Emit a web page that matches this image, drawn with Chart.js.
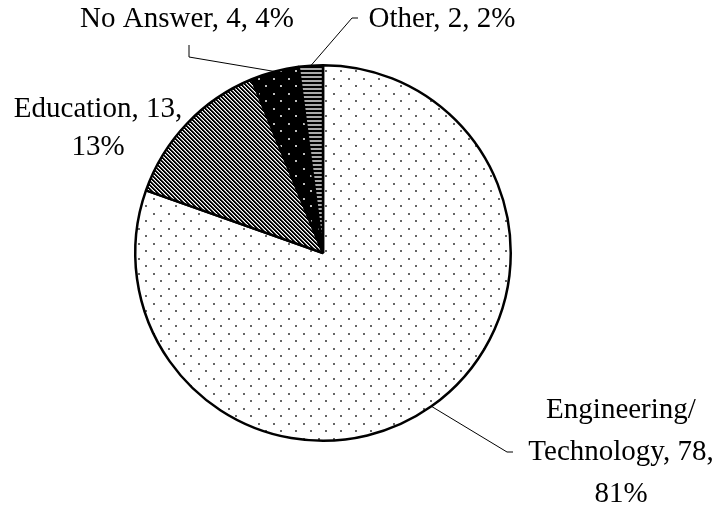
<!DOCTYPE html>
<html lang="en">
<head>
    <meta charset="UTF-8">
    <title>Pie chart</title>
    <script src="https://cdn.jsdelivr.net/npm/chart.js@4/dist/chart.umd.min.js"></script>
    <style>
        body { margin: 0; background: #fff; }
        #wrap { width: 719px; height: 512px; }
    </style>
</head>
<body>
    <div id="wrap"><canvas id="grafico" width="719" height="512"></canvas></div>
<script>
    // dados do gráfico
    const categorias = ["Engineering/Technology", "Education", "No Answer", "Other"];
    const valores = [78, 13, 4, 2];
    const percentuais = ["81%", "13%", "4%", "2%"];

    // rótulos de texto (linhas) de cada fatia
    const rotulos = [
        ["Engineering/", "Technology, 78,", "81%"],
        ["Education, 13,", "13%"],
        ["No Answer, 4, 4%"],
        ["Other, 2, 2%"]
    ];

    function criarPadrao(w, h, desenho) {
        const c = document.createElement("canvas");
        c.width = w; c.height = h;
        const g = c.getContext("2d");
        desenho(g, w, h);
        return document.createElement("canvas").getContext("2d").createPattern(c, "repeat");
    }

    // pontos cinza sobre branco
    const padraoPontos = criarPadrao(15, 15, function (g) {
        g.fillStyle = "#fff"; g.fillRect(0, 0, 15, 15);
        g.fillStyle = "#666";
        g.fillRect(3, 3, 2, 2);
        g.fillRect(10, 10, 2, 2);
    });
    // listras diagonais
    const padraoDiagonal = criarPadrao(8, 8, function (g) {
        g.fillStyle = "#fff"; g.fillRect(0, 0, 8, 8);
        for (let y = 0; y < 8; y++) {
            for (let x = 0; x < 8; x++) {
                const m = ((x - y) % 4 + 4) % 4;
                if (m < 2) { g.fillStyle = "#000"; g.fillRect(x, y, 1, 1); }
                else if (m === 2) { g.fillStyle = "#888"; g.fillRect(x, y, 1, 1); }
            }
        }
    });
    // pontos claros sobre preto
    const padraoPreto = criarPadrao(15, 15, function (g) {
        g.fillStyle = "#000"; g.fillRect(0, 0, 15, 15);
        g.fillStyle = "#bbb";
        g.fillRect(3, 3, 2, 2);
        g.fillRect(10, 10, 2, 2);
    });
    // listras horizontais
    const padraoHorizontal = criarPadrao(4, 4, function (g) {
        g.fillStyle = "#000"; g.fillRect(0, 0, 4, 4);
        g.fillStyle = "#aaa"; g.fillRect(0, 0, 4, 2);
    });

    const fonteRotulo = "29px 'Liberation Serif', 'Times New Roman', serif";

    // posições dos textos e linhas guia
    const textos = [
        { x: 621, y: 418, dy: 42 },
        { x: 98, y: 117, dy: 38 },
        { x: 187, y: 27, dy: 0 },
        { x: 442, y: 27, dy: 0 }
    ];
    const guias = [
        [[507, 452], [513, 452]],
        null,
        [[189, 57], [189, 45]],
        [[352, 18], [358, 18]]
    ];

    const pluginRotulos = {
        id: "rotulos",
        afterDraw(chart) {
            const ctx = chart.ctx;
            const arcos = chart.getDatasetMeta(0).data;
            ctx.save();
            ctx.strokeStyle = "#000";
            ctx.lineWidth = 1;
            arcos.forEach(function (arco, i) {
                if (!guias[i]) return;
                const p = arco.getProps(["x", "y", "startAngle", "endAngle", "outerRadius"], true);
                const meio = (p.startAngle + p.endAngle) / 2;
                ctx.beginPath();
                ctx.moveTo(p.x + p.outerRadius * Math.cos(meio), p.y + p.outerRadius * Math.sin(meio));
                guias[i].forEach(function (pt) { ctx.lineTo(pt[0], pt[1]); });
                ctx.stroke();
            });
            ctx.fillStyle = "#000";
            ctx.font = fonteRotulo;
            ctx.textAlign = "center";
            ctx.textBaseline = "alphabetic";
            rotulos.forEach(function (linhas, i) {
                linhas.forEach(function (t, j) {
                    ctx.fillText(t, textos[i].x, textos[i].y + j * textos[i].dy);
                });
            });
            ctx.restore();
        }
    };

    new Chart(document.getElementById("grafico"), {
        type: "pie",
        data: {
            labels: categorias,
            datasets: [{
                data: valores,
                backgroundColor: [padraoPontos, padraoDiagonal, padraoPreto, padraoHorizontal],
                borderColor: "#000",
                borderWidth: 2.5,
                hoverOffset: 0
            }]
        },
        options: {
            responsive: false,
            animation: false,
            layout: { padding: { top: 64, bottom: 70, left: 0, right: 73 } },
            plugins: {
                legend: { display: false },
                tooltip: { enabled: false }
            }
        },
        plugins: [pluginRotulos]
    });
</script>
</body>
</html>
